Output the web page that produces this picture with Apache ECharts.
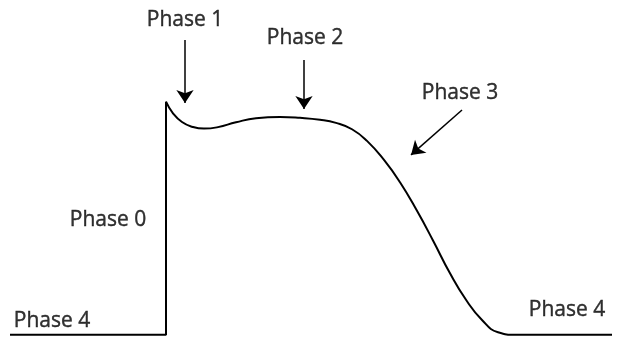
<!DOCTYPE html>
<html>
<head>
<meta charset="UTF-8">
<script src="https://cdn.jsdelivr.net/npm/echarts@6/dist/echarts.min.js"></script>
<style>
  html, body { margin: 0; padding: 0; background: #fff; }
  #chart { width: 625px; height: 339px; }
</style>
</head>
<body>
<div id="chart"></div>
<script>
// time in ms (0 = upstroke), membrane potential in mV
var upstroke = [[-156, -90], [0, -90], [0, 20]];
var repol = [[0, 20], [7, 14.5], [16, 10.4], [26, 8.2], [38, 7.3], [52, 8], [70, 10.3], [90, 12.2],
  [114, 12.8], [134, 12.4], [154, 11.5], [170, 10], [186, 7], [201, 1.5], [218, -7.5],
  [234, -18], [251, -31.5], [267, -45.5], [284, -61], [300, -73.5], [316, -83],
  [332, -88.8], [350, -90], [446, -90]];

// arrows: [from, to]
var arrows = [
  [[19, 49.1], [19, 19.4]],
  [[138, 39.7], [138, 16.6]],
  [[296, 16.1], [245, -5.1]]
];

var labelNames = ['Phase 1', 'Phase 2', 'Phase 3', 'Phase 0', 'Phase 4', 'Phase 4'];
var labelPos = [[19, 58.6], [139, 50.1], [294, 24.1], [-58, -35.8], [-114, -83.5], [401, -78.3]];

var chart = echarts.init(document.getElementById('chart'));

var labelData = labelNames.map(function (n, i) {
  return { name: n, value: labelPos[i] };
});

chart.setOption({
  animation: false,
  grid: { left: 0, right: 0, top: 0, bottom: 0 },
  xAxis: { type: 'value', min: -166, max: 459, show: false },
  yAxis: { type: 'value', min: -92, max: 68, show: false },
  series: [
    {
      type: 'line', data: upstroke, symbol: 'none',
      lineStyle: { color: '#000', width: 2 }
    },
    {
      type: 'line', data: repol, symbol: 'none', smooth: 0.5,
      lineStyle: { color: '#000', width: 2 }
    },
    {
      type: 'lines', coordinateSystem: 'cartesian2d',
      data: arrows.map(function (a) { return { coords: a }; }),
      symbol: ['none', 'arrow'], symbolSize: [0, 13],
      lineStyle: { color: '#000', width: 1.5, opacity: 1 },
      itemStyle: { color: '#000' }
    },
    {
      type: 'scatter', data: labelData, symbolSize: 0,
      itemStyle: { color: '#000' },
      label: {
        show: true, position: 'inside', formatter: '{b}',
        color: '#000', textBorderColor: '#000', textBorderWidth: 0.4,
        fontFamily: 'Open Sans', fontSize: 21
      }
    }
  ]
});
</script>
</body>
</html>
